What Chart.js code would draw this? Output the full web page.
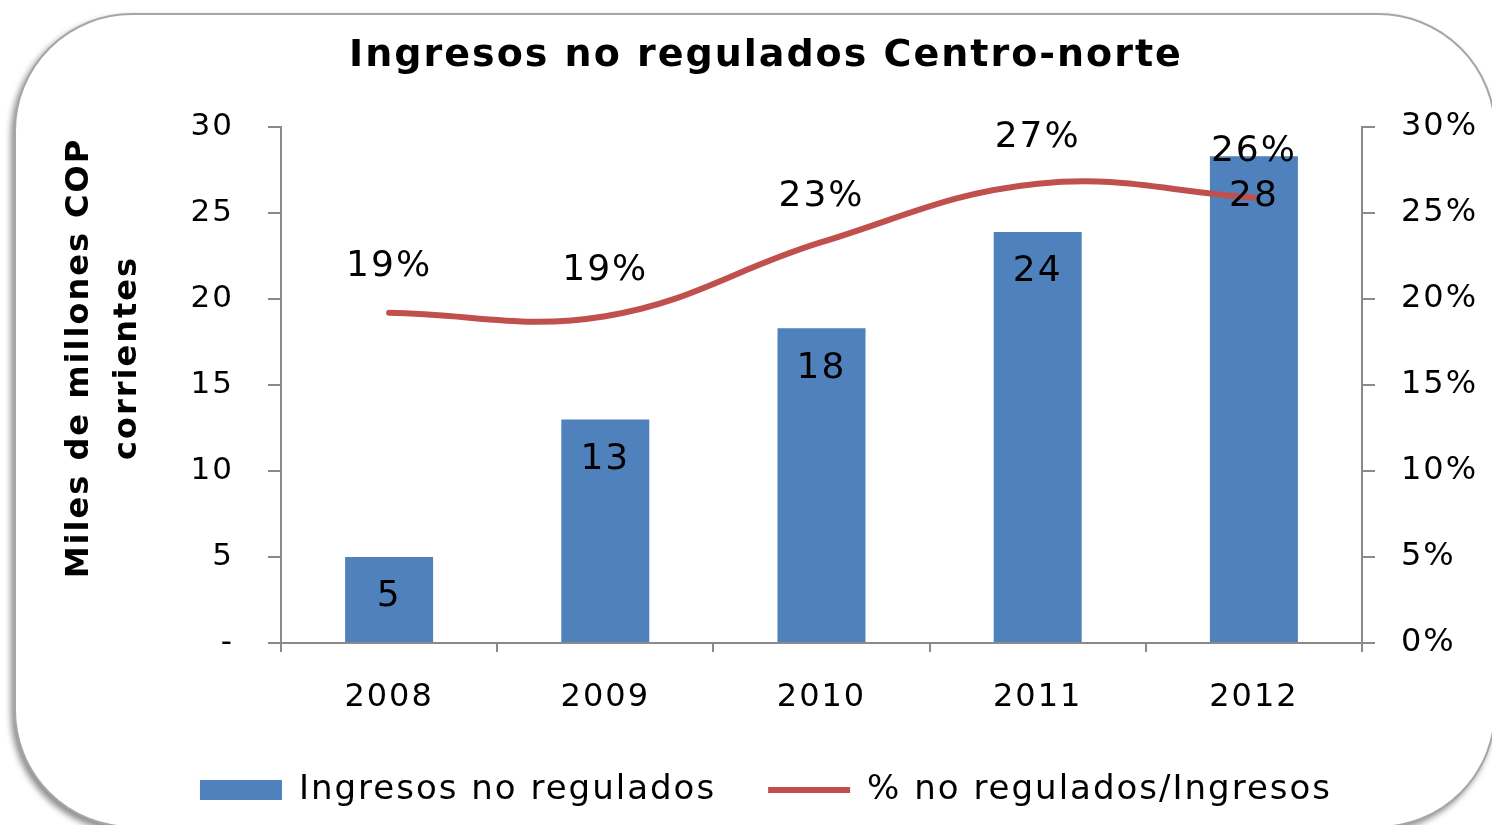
<!DOCTYPE html>
<html>
<head>
<meta charset="utf-8">
<script src="https://cdn.jsdelivr.net/npm/chart.js@4.4.0/dist/chart.umd.min.js"></script>
<style>
  html, body { margin: 0; padding: 0; background: #fff; overflow: hidden; }
  #frame {
    position: absolute; left: 14px; top: 13px; width: 1478px; height: 811px;
    border: 2px solid #a6a6a6; border-radius: 118px; background: #fff;
    box-shadow: -3px 4px 6px rgba(0, 0, 0, 0.45);
  }
  #wrap { position: absolute; left: 0; top: 0; width: 1492px; height: 825px; }
</style>
</head>
<body>
<div id="frame"></div>
<div id="wrap"><canvas id="chart" width="1492" height="825"></canvas></div>
<script>
// data
var years = ['2008', '2009', '2010', '2011', '2012'];
var ingresos = [5.0, 13.0, 18.3, 23.9, 28.3];          // miles de millones COP
var porcentaje = [19.2, 19.0, 23.3, 26.7, 25.9];       // % no regulados / ingresos
var leftTickLabels = ['-', '5', '10', '15', '20', '25', '30'];
var rightTickLabels = ['0%', '5%', '10%', '15%', '20%', '25%', '30%'];

var axisGray = '#8a8a8a';
var font = '"DejaVu Sans", Verdana, sans-serif';

// Excel-like letter spacing on all text
var spacingPlugin = {
  id: 'spacing',
  beforeUpdate: function(chart) { chart.ctx.letterSpacing = '2px'; },
  beforeDraw: function(chart) { chart.ctx.letterSpacing = '2px'; }
};

// value labels + rotated y axis title
var labelPlugin = {
  id: 'valueLabels',
  afterDatasetsDraw: function(chart) {
    var ctx = chart.ctx;
    var area = chart.chartArea;
    ctx.save();
    ctx.letterSpacing = '2px';
    ctx.fillStyle = '#000';
    ctx.textAlign = 'center';
    ctx.textBaseline = 'middle';
    ctx.font = '36px ' + font;
    chart.getDatasetMeta(0).data.forEach(function(bar, i) {
      ctx.fillText(String(Math.round(ingresos[i])), bar.x, bar.y + 40);
    });
    chart.getDatasetMeta(1).data.forEach(function(pt, i) {
      ctx.fillText(Math.round(porcentaje[i]) + '%', pt.x, pt.y - 46);
    });

    ctx.font = 'bold 32px ' + font;
    ctx.translate(area.left - 177, area.top + 231);
    ctx.rotate(-Math.PI / 2);
    ctx.fillText('Miles de millones COP', 0, -24);
    ctx.fillText('corrientes', 0, 24);
    ctx.restore();
  }
};

var ctx = document.getElementById('chart').getContext('2d');
var chart = new Chart(ctx, {
  type: 'bar',
  data: {
    labels: years,
    datasets: [{
      label: 'Ingresos no regulados',
      data: ingresos,
      backgroundColor: '#4F81BD',
      borderWidth: 0,
      categoryPercentage: 1,
      barPercentage: 0.407,
      pointStyle: 'rect',
      yAxisID: 'y',
      order: 2
    }, {
      type: 'line',
      label: '% no regulados/Ingresos',
      data: porcentaje,
      borderColor: '#C0504D',
      backgroundColor: '#C0504D',
      borderWidth: 6,
      borderCapStyle: 'round',
      tension: 0.4,
      pointRadius: 0,
      pointStyle: 'line',
      yAxisID: 'y1',
      order: 1
    }]
  },
  options: {
    responsive: false,
    animation: false,
    devicePixelRatio: 1,
    layout: { padding: { left: 40, right: 0, top: 0, bottom: 8 } },
    plugins: {
      tooltip: { enabled: false },
      title: {
        display: true,
        text: 'Ingresos no regulados Centro-norte',
        color: '#000',
        font: { family: font, size: 38, weight: 'bold', lineHeight: 1.2 },
        padding: { top: 33, bottom: 48.4 }
      },
      legend: {
        position: 'bottom',
        reverse: true,
        labels: {
          usePointStyle: true,
          pointStyleWidth: 82,
          boxHeight: 20,
          padding: 52,
          color: '#000',
          font: { family: font, size: 34 }
        }
      }
    },
    scales: {
      x: {
        afterFit: function(scale) { scale.height = 78; },
        grid: { display: true, drawOnChartArea: false, drawTicks: true, tickLength: 9, color: axisGray, lineWidth: 2 },
        border: { display: true, color: axisGray, width: 2 },
        ticks: { color: '#000', padding: 26, font: { family: font, size: 32 } }
      },
      y: {
        position: 'left',
        min: 0,
        max: 30,
        afterFit: function(scale) { scale.width = 241; },
        grid: { display: true, drawOnChartArea: false, drawTicks: true, tickLength: 13, color: axisGray, lineWidth: 2 },
        border: { display: true, color: axisGray, width: 2 },
        ticks: {
          stepSize: 5,
          color: '#000',
          padding: 34,
          font: { family: font, size: 31 },
          callback: function(v, i) { return leftTickLabels[i]; }
        }
      },
      y1: {
        position: 'right',
        min: 0,
        max: 30,
        afterFit: function(scale) { scale.width = 130; },
        grid: { display: true, drawOnChartArea: false, drawTicks: true, tickLength: 13, color: axisGray, lineWidth: 2 },
        border: { display: true, color: axisGray, width: 2 },
        ticks: {
          stepSize: 5,
          color: '#000',
          padding: 26,
          font: { family: font, size: 32 },
          callback: function(v, i) { return rightTickLabels[i]; }
        }
      }
    }
  },
  plugins: [spacingPlugin, labelPlugin]
});
</script>
</body>
</html>
